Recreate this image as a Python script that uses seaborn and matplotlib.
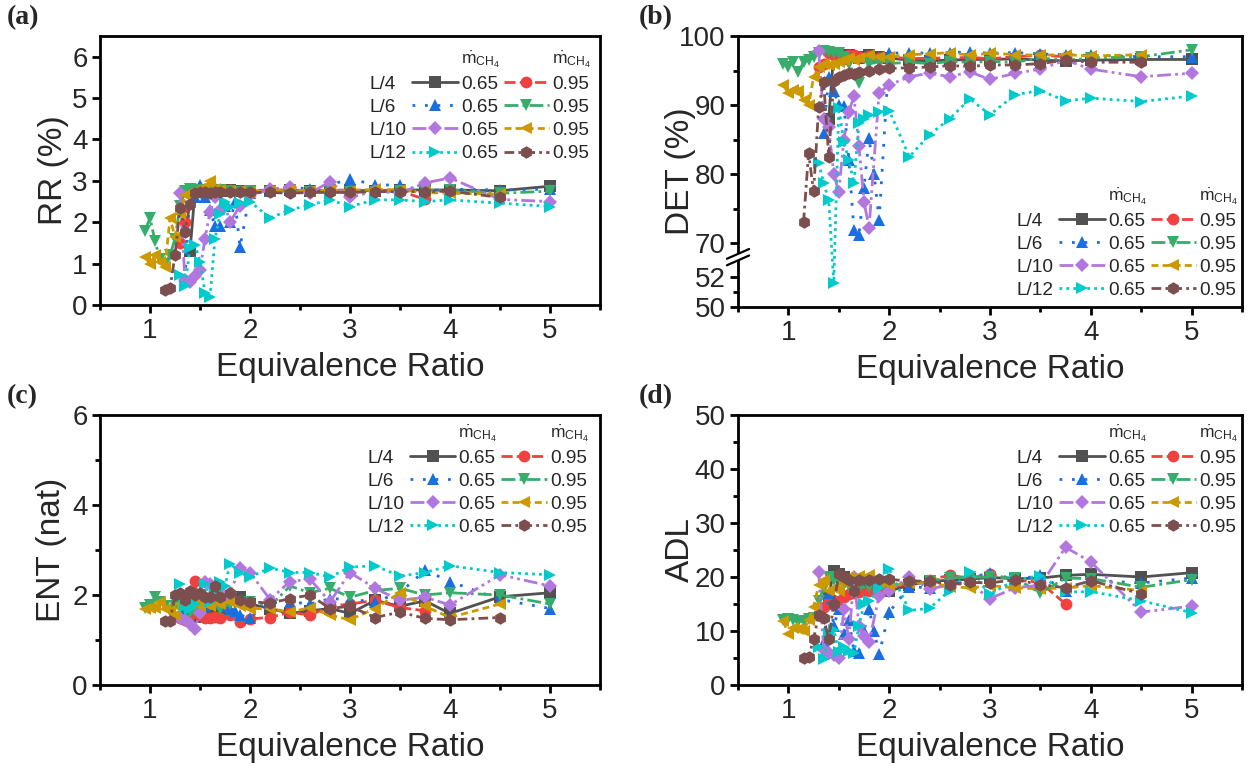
import numpy as np
import matplotlib
matplotlib.use("Agg")
import matplotlib.pyplot as plt
from matplotlib.lines import Line2D
from matplotlib.ticker import FixedLocator, FormatStrFormatter, NullFormatter
import seaborn as sns

# ---------------- data ----------------
# L/4, 0.65
X_L4_065 = [1.40, 1.45, 1.50, 1.55, 1.60, 1.65, 1.70, 1.75, 1.80, 1.90, 2.00, 2.20, 2.40, 2.60, 2.80, 3.00, 3.25, 3.50, 3.75, 4.00, 4.50, 5.00]
RR_L4_065 = [1.30, 2.75, 2.78, 2.75, 2.76, 2.75, 2.77, 2.76, 2.77, 2.76, 2.76, 2.75, 2.77, 2.76, 2.77, 2.77, 2.76, 2.78, 2.78, 2.78, 2.76, 2.87]
DET_L4_065 = [88.0, 97.5, 97.3, 97.0, 97.2, 97.0, 96.8, 97.0, 97.2, 97.0, 96.8, 96.5, 96.4, 96.5, 96.6, 96.6, 96.7, 96.5, 96.4, 96.5, 96.6, 96.6]
ENT_L4_065 = [1.55, 1.52, 1.54, 1.65, 1.70, 1.72, 1.68, 1.85, 1.96, 1.96, 1.80, 1.70, 1.59, 1.65, 1.70, 1.59, 1.88, 1.75, 1.87, 1.59, 1.96, 2.05]
ADL_L4_065 = [16.3, 21.2, 20.5, 20.0, 19.5, 19.0, 18.5, 18.0, 17.6, 17.5, 17.4, 18.5, 19.2, 19.4, 19.6, 19.9, 19.7, 19.8, 20.3, 20.5, 20.0, 20.8]

# L/4, 0.95
X_L4_095 = [1.30, 1.35, 1.40, 1.45, 1.50, 1.55, 1.60, 1.65, 1.70, 1.80, 1.90, 2.00, 2.20, 2.40, 2.60, 2.80, 3.00, 3.25, 3.50, 3.75]
RR_L4_095 = [1.50, 2.00, 2.70, 2.80, 2.75, 2.80, 2.78, 2.80, 2.75, 2.78, 2.76, 2.75, 2.78, 2.78, 2.76, 2.77, 2.78, 2.77, 2.76, 2.55]
DET_L4_095 = [95.5, 96.0, 97.5, 97.3, 97.0, 96.6, 97.3, 97.2, 96.9, 97.1, 96.8, 97.0, 96.7, 96.8, 96.8, 96.9, 96.7, 97.0, 97.2, 97.0]
ENT_L4_095 = [1.50, 1.45, 1.55, 2.32, 1.55, 1.50, 1.50, 1.52, 1.50, 1.55, 1.40, 1.47, 1.50, 1.62, 1.55, 1.75, 1.80, 1.88, 1.72, 1.65]
ADL_L4_095 = [13.0, 14.5, 15.8, 14.8, 15.5, 16.3, 16.8, 17.0, 17.2, 17.5, 17.6, 18.0, 18.8, 19.5, 20.3, 19.8, 20.5, 19.5, 19.0, 15.0]

# L/6, 0.65
X_L6_065 = [1.35, 1.40, 1.45, 1.50, 1.55, 1.60, 1.65, 1.70, 1.75, 1.80, 1.85, 1.90, 2.00, 2.20, 2.40, 2.60, 2.80, 3.00, 3.25, 3.50, 3.75, 4.00, 4.50, 5.00]
RR_L6_065 = [0.60, 2.80, 2.60, 2.90, 2.60, 2.30, 1.90, 1.90, 2.40, 2.00, 2.50, 1.40, 2.70, 2.75, 2.85, 2.80, 2.90, 3.05, 2.90, 2.90, 2.75, 2.80, 2.78, 2.80]
DET_L6_065 = [86.0, 94.0, 92.0, 90.0, 89.9, 82.0, 71.9, 71.2, 78.0, 85.2, 80.0, 73.3, 97.5, 97.6, 97.5, 97.6, 97.7, 97.5, 97.6, 97.4, 97.3, 97.2, 97.0, 97.0]
ENT_L6_065 = [1.70, 1.75, 1.72, 1.70, 1.75, 1.80, 1.85, 1.80, 1.75, 1.70, 1.65, 1.55, 1.50, 1.82, 1.85, 1.80, 1.92, 1.90, 1.85, 2.05, 2.55, 2.30, 1.90, 1.70]
ADL_L6_065 = [8.0, 17.0, 11.0, 14.0, 9.5, 12.0, 6.3, 6.0, 10.0, 14.0, 10.0, 5.7, 13.5, 18.2, 18.0, 18.5, 19.8, 20.8, 19.5, 20.3, 17.5, 19.4, 18.9, 19.8]

# L/6, 0.95
X_L6_095 = [0.95, 1.00, 1.05, 1.10, 1.15, 1.20, 1.25, 1.30, 1.35, 1.40, 1.45, 1.50, 1.55, 1.60, 1.70, 1.80, 1.90, 2.00, 2.20, 2.40, 2.60, 2.80, 3.00, 3.25, 3.50, 3.75, 4.00, 4.50, 5.00]
RR_L6_095 = [1.80, 2.10, 1.55, 1.10, 1.00, 1.20, 1.60, 2.40, 2.75, 2.80, 2.75, 2.78, 2.76, 2.75, 2.77, 2.75, 2.74, 2.75, 2.74, 2.76, 2.74, 2.75, 2.73, 2.74, 2.75, 2.76, 2.78, 2.70, 2.75]
DET_L6_095 = [96.0, 95.5, 96.2, 94.8, 96.2, 96.5, 97.0, 97.5, 97.8, 97.7, 97.5, 97.6, 97.0, 96.0, 93.2, 96.0, 96.2, 96.0, 96.2, 96.0, 96.3, 96.2, 96.3, 96.2, 96.8, 96.5, 96.8, 97.0, 98.0]
ENT_L6_095 = [1.72, 1.78, 1.95, 1.85, 1.75, 1.65, 1.75, 1.85, 1.70, 1.60, 1.65, 1.75, 1.80, 1.90, 1.70, 1.80, 1.85, 1.85, 1.75, 2.20, 2.05, 2.15, 1.95, 2.10, 2.15, 2.00, 2.05, 2.00, 1.80]
ADL_L6_095 = [12.0, 12.2, 12.0, 11.6, 11.8, 12.3, 12.5, 15.5, 18.0, 20.0, 19.5, 19.0, 18.5, 18.3, 18.0, 18.2, 18.5, 18.5, 19.0, 19.3, 19.8, 20.0, 20.0, 19.8, 17.0, 19.8, 19.7, 18.1, 19.5]

# L/10, 0.65
X_L10_065 = [1.30, 1.35, 1.40, 1.45, 1.50, 1.55, 1.60, 1.65, 1.70, 1.75, 1.80, 1.90, 2.00, 2.20, 2.40, 2.60, 2.80, 3.00, 3.25, 3.50, 3.75, 4.00, 4.50, 5.00]
RR_L10_065 = [2.70, 0.60, 0.55, 0.70, 0.85, 1.60, 2.25, 2.60, 2.30, 2.40, 2.00, 2.40, 2.65, 2.80, 2.85, 2.70, 2.98, 2.60, 2.75, 2.70, 2.95, 3.07, 2.55, 2.50]
DET_L10_065 = [97.8, 88.0, 86.8, 80.0, 77.4, 85.0, 89.0, 91.3, 84.0, 76.0, 72.2, 91.8, 92.9, 94.1, 94.6, 94.1, 94.8, 93.7, 94.6, 95.2, 96.5, 95.2, 94.1, 94.6]
ENT_L10_065 = [1.50, 1.45, 1.35, 1.25, 1.60, 2.30, 2.25, 2.10, 2.15, 1.95, 2.05, 2.60, 2.50, 1.90, 2.30, 2.35, 1.85, 2.50, 2.15, 1.88, 1.95, 1.78, 2.45, 2.20]
ADL_L10_065 = [21.0, 6.5, 6.0, 5.5, 5.0, 14.0, 8.5, 20.0, 11.0, 9.0, 8.0, 16.5, 17.5, 20.0, 17.8, 18.5, 18.8, 16.0, 18.0, 18.5, 25.5, 22.8, 13.5, 14.6]

# L/10, 0.95
X_L10_095 = [0.95, 1.00, 1.05, 1.10, 1.15, 1.20, 1.25, 1.30, 1.35, 1.40, 1.45, 1.50, 1.55, 1.60, 1.65, 1.70, 1.80, 1.90, 2.00, 2.20, 2.40, 2.60, 2.80, 3.00, 3.25, 3.50, 3.75, 4.00, 4.50]
RR_L10_095 = [1.15, 1.00, 1.20, 1.05, 0.92, 2.10, 1.65, 2.20, 2.65, 2.70, 2.75, 2.80, 2.85, 3.00, 2.80, 2.78, 2.76, 2.75, 2.74, 2.76, 2.78, 2.76, 2.78, 2.75, 2.80, 2.78, 2.72, 2.70, 2.68]
DET_L10_095 = [92.9, 91.7, 92.2, 92.0, 90.7, 90.0, 94.0, 95.5, 96.0, 95.8, 96.0, 96.2, 96.5, 96.8, 96.5, 96.8, 97.2, 97.0, 97.0, 97.3, 97.4, 97.6, 97.2, 97.5, 97.3, 97.2, 97.3, 97.1, 97.3]
ENT_L10_095 = [1.70, 1.72, 1.72, 1.85, 1.70, 1.65, 1.55, 1.80, 1.85, 1.80, 1.85, 1.75, 1.80, 1.75, 1.85, 1.80, 1.85, 1.75, 1.70, 1.70, 1.62, 1.72, 1.55, 1.45, 1.70, 2.05, 1.75, 1.50, 1.80]
ADL_L10_095 = [11.8, 9.5, 10.5, 10.3, 10.0, 12.0, 14.5, 18.5, 19.5, 17.5, 18.0, 17.5, 19.0, 20.0, 19.5, 20.2, 20.3, 19.0, 18.5, 18.8, 19.0, 18.2, 18.0, 18.4, 18.0, 17.8, 18.0, 18.4, 17.5]

# L/12, 0.65
X_L12_065 = [1.30, 1.35, 1.40, 1.45, 1.50, 1.55, 1.60, 1.65, 1.70, 1.75, 1.80, 1.90, 2.00, 2.20, 2.40, 2.60, 2.80, 3.00, 3.25, 3.50, 3.75, 4.00, 4.50, 5.00]
RR_L12_065 = [0.72, 0.45, 1.38, 1.45, 1.05, 0.30, 0.20, 1.60, 2.20, 2.50, 2.37, 2.46, 2.50, 2.10, 2.30, 2.42, 2.54, 2.38, 2.54, 2.54, 2.50, 2.54, 2.46, 2.38]
DET_L12_065 = [81.6, 78.7, 76.2, 51.6, 89.6, 84.6, 82.0, 78.7, 87.4, 88.0, 88.6, 89.0, 89.2, 82.5, 85.7, 88.0, 90.9, 88.6, 91.5, 92.1, 90.6, 91.0, 90.5, 91.3]
ENT_L12_065 = [2.25, 1.75, 1.70, 1.80, 2.00, 2.25, 1.85, 2.10, 2.30, 2.20, 2.70, 2.50, 2.40, 2.60, 2.50, 2.50, 2.40, 2.62, 2.65, 2.42, 2.50, 2.65, 2.50, 2.45]
ADL_L12_065 = [7.0, 4.8, 9.5, 10.2, 6.2, 7.0, 6.3, 6.0, 11.0, 15.0, 15.5, 18.0, 21.5, 13.8, 14.2, 17.5, 21.0, 16.8, 19.5, 20.2, 17.2, 17.3, 15.6, 13.4]

# L/12, 0.95
X_L12_095 = [1.15, 1.20, 1.25, 1.30, 1.35, 1.40, 1.45, 1.50, 1.55, 1.60, 1.65, 1.70, 1.80, 1.90, 2.00, 2.20, 2.40, 2.60, 2.80, 3.00, 3.25, 3.50, 3.75, 4.00, 4.50]
RR_L12_095 = [0.36, 0.40, 1.20, 2.35, 1.77, 2.45, 2.70, 2.72, 2.72, 2.70, 2.72, 2.72, 2.72, 2.72, 2.72, 2.72, 2.70, 2.72, 2.72, 2.72, 2.74, 2.74, 2.74, 2.75, 2.60]
DET_L12_095 = [73.0, 83.0, 77.5, 89.7, 93.3, 82.5, 93.5, 94.0, 94.3, 94.6, 94.5, 94.8, 95.0, 95.2, 95.3, 95.4, 95.5, 95.7, 95.6, 95.8, 95.8, 96.0, 96.5, 96.2, 96.2]
ENT_L12_095 = [1.42, 1.42, 2.00, 2.05, 1.90, 2.10, 2.00, 2.05, 1.95, 1.95, 2.20, 1.95, 2.05, 1.90, 1.85, 1.82, 1.92, 2.00, 1.70, 1.75, 1.50, 1.62, 1.48, 1.45, 1.50]
ADL_L12_095 = [5.0, 5.2, 8.5, 13.0, 12.5, 8.5, 15.0, 20.5, 20.0, 19.5, 17.5, 19.5, 19.4, 19.6, 19.6, 19.2, 19.3, 18.6, 19.0, 18.9, 19.5, 18.6, 18.0, 19.3, 16.9]

LENGTH_LABELS = ["L/4", "L/6", "L/10", "L/12"]
FLOW_LABELS = ["0.65", "0.95"]
PANEL_LABELS = ["(a)", "(b)", "(c)", "(d)"]
Y_LABELS = ["RR (%)", "DET (%)", "ENT (nat)", "ADL"]
X_LABEL = "Equivalence Ratio"

# ---------------- style ----------------
sns.set_theme(style="ticks")
plt.rcParams["font.family"] = ["Liberation Sans", "DejaVu Sans"]
plt.rcParams["mathtext.fontset"] = "custom"
plt.rcParams["mathtext.rm"] = "Liberation Sans"
plt.rcParams["mathtext.it"] = "Liberation Sans:italic"

COLORS = ["#515151", "#F14040", "#1A6FDF", "#37AD6B", "#B177DE", "#CC9900", "#00CBCC", "#7D4E4E"]
MARKERS = ["s", "o", "^", "v", "D", "<", ">", "h"]
MSIZES = [8, 8.5, 8.5, 8.5, 7.5, 8.5, 8.5, 9]
LSTYLES = ["-", (0, (4, 1.5)), (0, (1, 3.5)), (0, (5, 1.5, 1, 1.5)),
           (0, (5, 1.5, 1, 1.5, 1, 1.5)), (0, (2.5, 1.5)), (0, (1, 1.5)), (0, (3.5, 1.5, 1, 1.5))]

SERIES_X = [X_L4_065, X_L4_095, X_L6_065, X_L6_095, X_L10_065, X_L10_095, X_L12_065, X_L12_095]
SERIES_Y = [
    [RR_L4_065, RR_L4_095, RR_L6_065, RR_L6_095, RR_L10_065, RR_L10_095, RR_L12_065, RR_L12_095],
    [DET_L4_065, DET_L4_095, DET_L6_065, DET_L6_095, DET_L10_065, DET_L10_095, DET_L12_065, DET_L12_095],
    [ENT_L4_065, ENT_L4_095, ENT_L6_065, ENT_L6_095, ENT_L10_065, ENT_L10_095, ENT_L12_065, ENT_L12_095],
    [ADL_L4_065, ADL_L4_095, ADL_L6_065, ADL_L6_095, ADL_L10_065, ADL_L10_095, ADL_L12_065, ADL_L12_095],
]

W, H = 1253, 769
fig = plt.figure(figsize=(W / 100, H / 100), dpi=100)


def px_axes(l, t, r, b):
    return fig.add_axes([l / W, 1 - b / H, (r - l) / W, (b - t) / H])


axes = [px_axes(100, 36, 600, 305), px_axes(738, 36, 1242, 307),
        px_axes(100, 415, 600, 685), px_axes(738, 415, 1242, 685)]

# broken scale for DET
BRK_V = [50.0, 53.3, 68.0, 100.0]
BRK_T = [0.0, 49.5, 50.2, 271.0]


def det_fwd(y):
    return np.interp(y, BRK_V, BRK_T)


def det_inv(t):
    return np.interp(t, BRK_T, BRK_V)


LINE_W = 2.0
YLABEL_X = [-0.062, -0.083, -0.066, -0.083]
for k, ax in enumerate(axes):
    if k == 1:
        ax.set_yscale("function", functions=(det_fwd, det_inv))
    for i in range(8):
        sns.lineplot(x=SERIES_X[i], y=SERIES_Y[k][i], ax=ax, color=COLORS[i],
                     linestyle=LSTYLES[i], marker=MARKERS[i], markersize=MSIZES[i],
                     markeredgewidth=0, lw=LINE_W, sort=False, estimator=None,
                     legend=False)
    ax.set_xlim(0.5, 5.5)
    ax.xaxis.set_major_locator(FixedLocator([1, 2, 3, 4, 5]))
    ax.xaxis.set_minor_locator(FixedLocator([0.5, 1.5, 2.5, 3.5, 4.5, 5.5]))
    ax.set_xlabel(X_LABEL, fontsize=24, labelpad=6)
    ax.set_ylabel(Y_LABELS[k], fontsize=24)
    ax.yaxis.set_label_coords(YLABEL_X[k], 0.5)
    for sp in ax.spines.values():
        sp.set_linewidth(2.0)
        sp.set_color("black")
    ax.tick_params(axis="both", which="major", direction="out", length=6, width=2,
                   labelsize=20, color="black", pad=3)
    ax.tick_params(axis="both", which="minor", direction="out", length=3.5, width=2,
                   color="black")
    ax.grid(False)

# y-axes
axes[0].set_ylim(0, 6.5)
axes[0].yaxis.set_major_locator(FixedLocator([0, 1, 2, 3, 4, 5, 6]))
axes[0].yaxis.set_minor_locator(FixedLocator([]))

axes[1].set_ylim(50, 100)
axes[1].yaxis.set_major_locator(FixedLocator([50, 52, 70, 80, 90, 100]))
axes[1].yaxis.set_minor_locator(FixedLocator([51, 75, 85, 95]))
axes[1].yaxis.set_major_formatter(FormatStrFormatter("%d"))
axes[1].yaxis.set_minor_formatter(NullFormatter())

axes[2].set_ylim(0, 6)
axes[2].yaxis.set_major_locator(FixedLocator([0, 2, 4, 6]))
axes[2].yaxis.set_minor_locator(FixedLocator([1, 3, 5]))

axes[3].set_ylim(0, 50)
axes[3].yaxis.set_major_locator(FixedLocator([0, 10, 20, 30, 40, 50]))
axes[3].yaxis.set_minor_locator(FixedLocator([5, 15, 25, 35, 45]))

# break marks on DET axis
axb = axes[1]
yb = 49.85 / 271.0
axb.plot([0, 0], [yb - 0.012, yb + 0.012], transform=axb.transAxes, color="white",
         lw=3, clip_on=False, zorder=10, solid_capstyle="butt")
for dy in (-0.012, 0.012):
    axb.plot([-0.022, 0.022], [yb + dy - 0.018, yb + dy + 0.018], transform=axb.transAxes,
             color="black", lw=1.6, clip_on=False, zorder=11)

# legends
HEADER = r"$\dot{\mathrm{m}}_{\mathrm{CH}_4}$"


def add_legend(ax, loc, anchor):
    blank = Line2D([], [], linestyle="none", marker=None, color="none")
    handles = [blank] * 5
    labels = [HEADER] + LENGTH_LABELS
    for j in range(2):
        handles.append(blank)
        labels.append(HEADER)
        for r in range(4):
            i = 2 * r + j
            handles.append(Line2D([], [], color=COLORS[i], linestyle=LSTYLES[i], lw=LINE_W,
                                  marker=MARKERS[i], markersize=MSIZES[i], markeredgewidth=0))
            labels.append(FLOW_LABELS[j])
    leg = ax.legend(handles, labels, ncol=3, loc=loc, bbox_to_anchor=anchor,
                    frameon=False, fontsize=13.7, handlelength=2.4, handletextpad=0.16,
                    columnspacing=0.2, labelspacing=0.3, borderpad=0.1,
                    borderaxespad=0.1)
    texts = leg.get_texts()
    texts[0].set_color("none")
    for idx in (0, 5, 10):
        texts[idx].set_fontsize(12.5)
    return leg


add_legend(axes[0], "upper right", (0.99, 0.965))
add_legend(axes[1], "lower right", (1.0, 0.015))
add_legend(axes[2], "upper right", (0.985, 0.985))
add_legend(axes[3], "upper right", (1.0, 0.985))

# panel labels
for ax, lab, (x, y) in zip(axes, PANEL_LABELS, [(7, 18), (639, 18), (7, 397), (639, 397)]):
    fig.text(x / W, 1 - y / H, lab, fontsize=20, fontweight="bold",
             family=["Liberation Serif", "DejaVu Serif"], va="center", ha="left")

fig.savefig("out.png", dpi=100)
